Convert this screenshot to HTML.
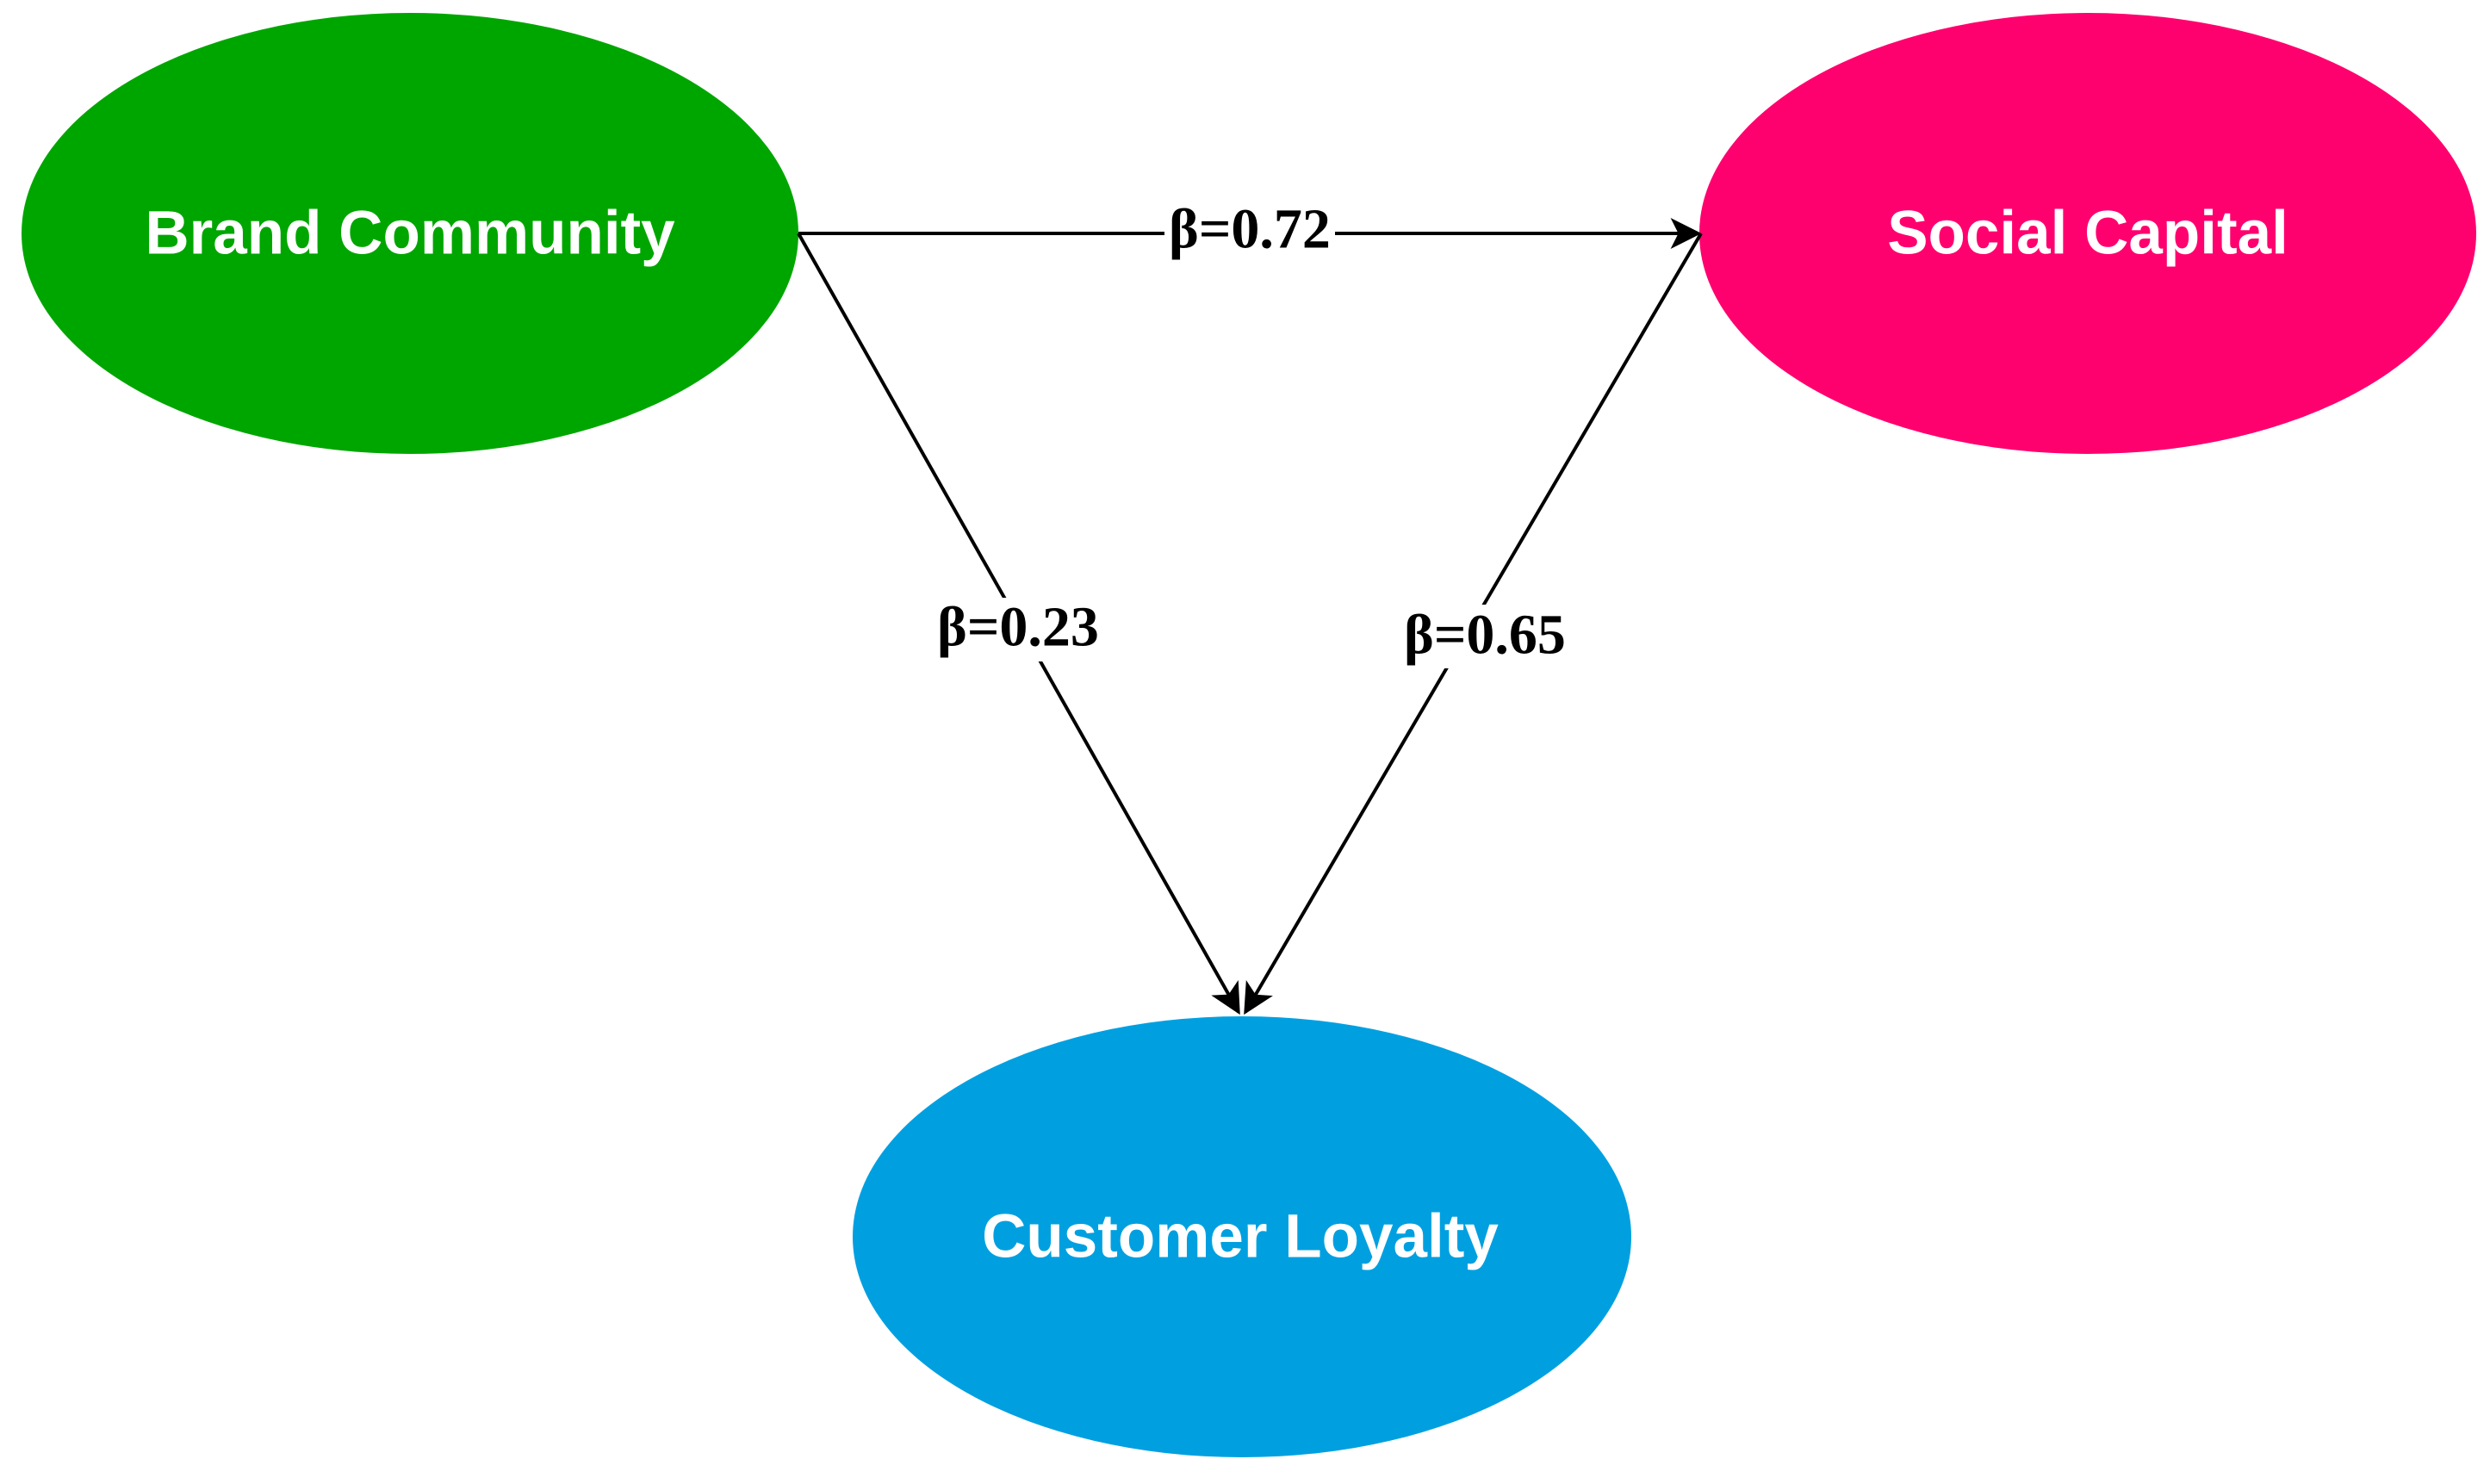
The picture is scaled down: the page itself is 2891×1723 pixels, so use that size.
<!DOCTYPE html>
<html><head><style>html,body{margin:0;padding:0;background:#fff}</style></head>
<body>
<svg width="2891" height="1718" viewBox="0 0 2891 1718" xmlns="http://www.w3.org/2000/svg">
<defs>
<marker id="a" viewBox="0 0 20 20" refX="18" refY="10" markerWidth="9" markerHeight="9" markerUnits="strokeWidth" orient="auto">
<path d="M0,0 L20,10 L0,20 L5,10 z" fill="#000"/>
</marker>
</defs>
<ellipse cx="476" cy="271" rx="451" ry="256" fill="#00a600"/>
<ellipse cx="2424" cy="271" rx="451" ry="256" fill="#ff006f"/>
<ellipse cx="1442" cy="1436" rx="452" ry="256" fill="#00a0e0"/>
<g stroke="#000" stroke-width="4" fill="none">
<line x1="927" y1="271" x2="1972" y2="271" marker-end="url(#a)"/>
<line x1="927" y1="271" x2="1438" y2="1175" marker-end="url(#a)"/>
<line x1="1975" y1="271" x2="1446" y2="1175" marker-end="url(#a)"/>
</g>
<g font-family="Liberation Serif, serif" font-weight="bold" font-size="66" text-anchor="middle" dominant-baseline="central">
<rect x="1352" y="236" width="198" height="66" fill="#fff"/>
<text x="1451" y="266">β=0.72</text>
<rect x="1078" y="694" width="204" height="74" fill="#fff"/>
<text x="1182" y="728">β=0.23</text>
<rect x="1620" y="702" width="208" height="74" fill="#fff"/>
<text x="1724" y="737">β=0.65</text>
</g>
<g font-family="Liberation Sans, sans-serif" font-weight="bold" font-size="71" fill="#fff" text-anchor="middle" dominant-baseline="central">
<text x="476" y="271">Brand Community</text>
<text x="2424" y="271">Social Capital</text>
<text x="1440" y="1436">Customer Loyalty</text>
</g>
</svg>
</body></html>
